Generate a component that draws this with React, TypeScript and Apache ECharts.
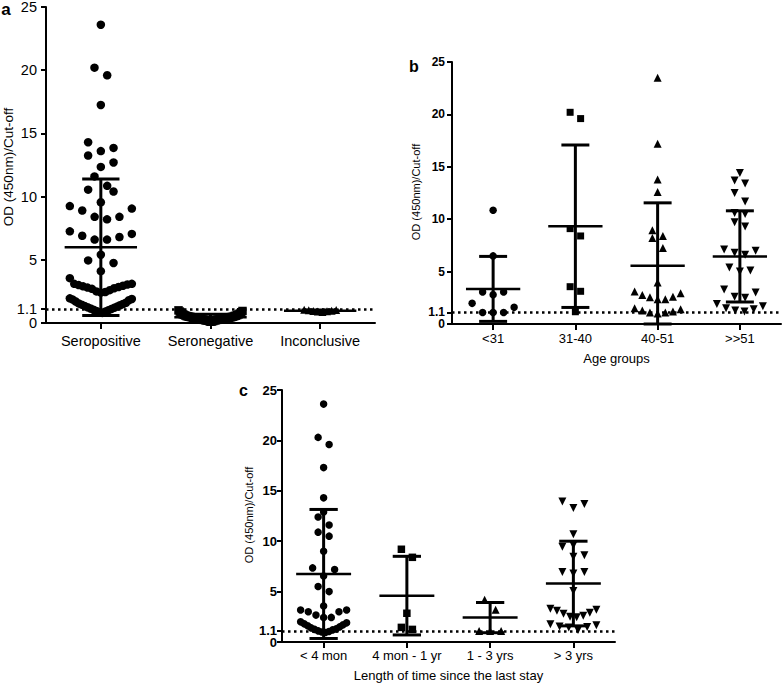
import React, { useEffect, useRef } from 'react';
import * as echarts from 'echarts';

const FONT = '"Liberation Sans", Arial, Helvetica, sans-serif';

// ---------- data ----------
const yTickValues = [0, 1.1, 5, 10, 15, 20, 25];
const yLabelValues = [1.1, 5, 10, 15, 20, 25];
const yZeroLabel = [0];
const cutOff = 1.1;

// Panel a
const serologyCategories = ['Seropositive', 'Seronegative', 'Inconclusive'];
const seropositiveValues = [
  23.6, 20.2, 19.6, 17.25, 14.3, 13.85, 13.6, 13.25, 12.7, 12.35, 11.6, 10.85, 10.55, 10.4,
  9.55, 9.25, 9.05, 8.9, 8.4, 8.4, 8.2, 7.25, 7.05, 6.9, 6.8, 6.6, 6.6, 5.4, 4.95, 4.75, 4.1,
  3.55, 3.1, 3.1, 3.05, 3.0, 2.95, 2.9, 2.85, 2.8, 2.75, 2.7, 2.6, 2.5, 2.45, 2.4,
  1.95, 1.9, 1.85, 1.8, 1.7, 1.6, 1.55, 1.5, 1.45, 1.4, 1.35, 1.3, 1.25, 1.2, 1.15, 1.1,
  1.05, 1.0, 0.95, 0.9, 0.85, 0.8,
];
const seronegativeValues = [
  0.1, 0.12, 0.15, 0.15, 0.18, 0.2, 0.2, 0.22, 0.22, 0.25, 0.25, 0.28, 0.28, 0.3, 0.3, 0.3,
  0.32, 0.32, 0.35, 0.35, 0.35, 0.38, 0.38, 0.4, 0.4, 0.4, 0.42, 0.42, 0.45, 0.45, 0.48, 0.48,
  0.5, 0.5, 0.52, 0.55, 0.55, 0.58, 0.6, 0.62, 0.65, 0.68, 0.7, 0.75, 0.8, 0.85, 0.9, 0.95, 1.0,
];
const inconclusiveValues = [0.88, 0.9, 0.92, 0.95, 0.97, 1.0, 1.02, 1.05];
const serologyMeans = [6.0, 0.45, 0.97];
const serologySDs = [5.4, 0.25, 0.06];

// Panel b
const ageCategories = ['<31', '31-40', '40-51', '>>51'];
const ageUnder31 = [10.85, 6.5, 3.05, 3.05, 2.8, 1.97, 1.6, 1.1, 1.1, 1.1];
const age31to40 = [20.2, 19.6, 9.1, 8.4, 3.56, 3.12, 1.17];
const age40to51 = [
  23.5, 17.2, 13.8, 12.6, 8.95, 8.4, 8.2, 7.25, 3.95, 3.1, 2.93, 2.77, 2.6, 2.55, 2.35, 2.35,
  1.5, 1.4, 1.3, 1.2, 1.1, 1.1, 1.0,
];
const ageOver51 = [
  14.4, 13.7, 13.4, 12.5, 11.7, 10.6, 10.5, 9.7, 9.3, 7.1, 7.0, 6.8, 6.6, 5.4, 5.1, 5.0, 3.3,
  3.0, 2.6, 2.5, 1.9, 1.7, 1.5, 1.4, 1.3, 1.2,
];
const ageMeans = [3.35, 9.33, 5.56, 6.45];
const ageSDs = [3.1, 7.75, 6.0, 4.35];

// Panel c
const stayCategories = ['< 4 mon', '4 mon - 1 yr', '1 - 3 yrs', '> 3 yrs'];
const stayUnder4mon = [
  23.6, 20.3, 19.6, 17.3, 14.3, 12.9, 12.4, 11.6, 10.9, 10.5, 9.0, 7.35, 7.2, 6.55, 5.5, 5.0,
  3.56, 3.17, 3.17, 3.0, 3.0, 2.67, 2.44, 2.44, 2.0, 1.9, 1.8, 1.7, 1.6, 1.5, 1.4, 1.3, 1.25,
  1.2, 1.1, 1.05, 1.0, 0.95,
];
const stay4monTo1yr = [9.2, 8.4, 2.85, 1.45, 1.25];
const stay1to3yrs = [4.2, 3.2, 1.1, 1.1, 1.1];
const stayOver3yrs = [
  13.95, 13.7, 13.3, 10.7, 9.6, 9.45, 8.6, 8.45, 6.95, 6.95, 6.8, 5.05, 3.3, 3.2, 3.1, 2.9, 2.8,
  2.6, 2.5, 2.45, 1.75, 1.65, 1.55, 1.5, 1.45, 1.2,
];
const stayMeans = [6.75, 4.6, 2.42, 5.8];
const staySDs = [6.4, 3.9, 1.5, 4.2];

// ---------- layout ----------
const Y_MAX = 25;
const grids = [
  { left: 46, top: 7, width: 329, height: 316 },
  { left: 452, top: 62, width: 329, height: 262 },
  { left: 282, top: 390, width: 333, height: 252 },
];

type PanelCfg = {
  categories: string[];
  groups: number[][];
  means: number[];
  sds: number[];
  symbols: string[];
  rotates: number[];
  sizes: number[];
  spacing: number;
  rowPx: number;
  maxHalf: number[];
  xFont: number;
  xMargin: number;
  yFont: number;
  yBold: boolean;
  yMargin: number;
};

const panels: PanelCfg[] = [
  {
    categories: serologyCategories,
    groups: [seropositiveValues, seronegativeValues, inconclusiveValues],
    means: serologyMeans,
    sds: serologySDs,
    symbols: ['circle', 'rect', 'triangle'],
    rotates: [0, 0, 0],
    sizes: [8.5, 8.5, 8],
    spacing: 12.7,
    rowPx: 15,
    maxHalf: [31, 32, 16],
    xFont: 14.5,
    xMargin: 10,
    yFont: 14.5,
    yBold: false,
    yMargin: 9,
  },
  {
    categories: ageCategories,
    groups: [ageUnder31, age31to40, age40to51, ageOver51],
    means: ageMeans,
    sds: ageSDs,
    symbols: ['circle', 'rect', 'triangle', 'triangle'],
    rotates: [0, 0, 0, 180],
    sizes: [7.5, 7, 8, 8],
    spacing: 10.5,
    rowPx: 10,
    maxHalf: [23, 23, 23, 23],
    xFont: 13,
    xMargin: 7.5,
    yFont: 12,
    yBold: true,
    yMargin: 7,
  },
  {
    categories: stayCategories,
    groups: [stayUnder4mon, stay4monTo1yr, stay1to3yrs, stayOver3yrs],
    means: stayMeans,
    sds: staySDs,
    symbols: ['circle', 'rect', 'triangle', 'triangle'],
    rotates: [0, 0, 0, 180],
    sizes: [7.5, 7.5, 8, 8],
    spacing: 11,
    rowPx: 11,
    maxHalf: [23, 23, 23, 23],
    xFont: 13,
    xMargin: 6.5,
    yFont: 13,
    yBold: true,
    yMargin: 5,
  },
];

// Row-based horizontal spreading (pixel offsets), computed from the values:
// values close together share a row and are spread symmetrically, lowest at the centre.
function swarmOffsets(values: number[], pxPerUnit: number, spacing: number, rowPx: number, maxHalf: number): number[] {
  const order = values.map((_, i) => i).sort((a, b) => values[a] - values[b]);
  const out = new Array(values.length).fill(0);
  let i = 0;
  while (i < order.length) {
    const start = values[order[i]];
    const row: number[] = [];
    while (i < order.length && (values[order[i]] - start) * pxPerUnit < rowPx) {
      row.push(order[i]);
      i++;
    }
    const k = row.length;
    if (k === 1) {
      out[row[0]] = 0;
      continue;
    }
    const sp = Math.min(spacing, (2 * maxHalf) / (k - 1));
    const slots: number[] = [];
    if (k % 2 === 1) {
      slots.push(0);
      for (let j = 1; slots.length < k; j++) {
        slots.push(j * sp);
        if (slots.length < k) slots.push(-j * sp);
      }
    } else {
      for (let j = 0; slots.length < k; j++) {
        slots.push((j + 0.5) * sp);
        if (slots.length < k) slots.push(-(j + 0.5) * sp);
      }
    }
    row.forEach((idx, j) => {
      out[idx] = slots[j];
    });
  }
  return out;
}

function buildOption() {
  const xAxis: any[] = [];
  const yAxis: any[] = [];
  const series: any[] = [];

  panels.forEach((p, pi) => {
    const g = grids[pi];
    const pxPerUnit = g.height / Y_MAX;
    const labelStyle = {
      color: '#000',
      fontSize: p.yFont,
      fontWeight: p.yBold ? 'bold' : 'normal',
      fontFamily: FONT,
      margin: p.yMargin,
      hideOverlap: false,
      formatter: (v: number) => String(v),
    };
    xAxis.push({
      type: 'category',
      gridIndex: pi,
      data: p.categories,
      boundaryGap: true,
      axisLine: { show: true, lineStyle: { color: '#000', width: 2 } },
      axisTick: { show: true, alignWithLabel: true, length: 6, lineStyle: { color: '#000', width: 2 } },
      axisLabel: { color: '#000', fontSize: p.xFont, fontFamily: FONT, margin: p.xMargin, interval: 0 },
      splitLine: { show: false },
    });
    // main y axis (line, ticks, labels from 1.1 up)
    yAxis.push({
      type: 'value',
      gridIndex: pi,
      position: 'left',
      min: 0,
      max: Y_MAX,
      axisLine: { show: true, lineStyle: { color: '#000', width: 2 } },
      axisTick: { show: true, length: 5, lineStyle: { color: '#000', width: 2 }, customValues: yTickValues },
      axisLabel: { ...labelStyle, customValues: yLabelValues },
      splitLine: { show: false },
    });
    // companion y axis carrying only the "0" label
    yAxis.push({
      type: 'value',
      gridIndex: pi,
      position: 'left',
      offset: 0,
      min: 0,
      max: Y_MAX,
      axisLine: { show: false },
      axisTick: { show: false },
      axisLabel: { ...labelStyle, customValues: yZeroLabel },
      splitLine: { show: false },
    });
    const yIdx = pi * 2;

    // mean ± SD bars
    series.push({
      type: 'custom',
      xAxisIndex: pi,
      yAxisIndex: yIdx,
      data: p.means.map((m, i) => [i, m, p.sds[i]]),
      encode: { x: 0, y: 1 },
      renderItem: (_params: any, api: any) => {
        const cat = api.value(0);
        const mean = api.value(1);
        const sd = api.value(2);
        const c = api.coord([cat, mean]);
        const top = api.coord([cat, mean + sd]);
        const bot = api.coord([cat, Math.max(0, mean - sd)]);
        const band = api.size([1, 0])[0];
        const mw = band * 0.33;
        const cw = band * 0.17;
        const st = { stroke: '#000', lineWidth: 3, fill: null };
        return {
          type: 'group',
          children: [
            { type: 'line', shape: { x1: c[0] - mw, y1: c[1], x2: c[0] + mw, y2: c[1] }, style: { stroke: '#000', lineWidth: 2.5 } },
            { type: 'line', shape: { x1: c[0], y1: top[1], x2: c[0], y2: bot[1] }, style: st },
            { type: 'line', shape: { x1: c[0] - cw, y1: top[1], x2: c[0] + cw, y2: top[1] }, style: st },
            { type: 'line', shape: { x1: c[0] - cw, y1: bot[1], x2: c[0] + cw, y2: bot[1] }, style: st },
          ],
        };
      },
      z: 2,
    });

    p.groups.forEach((vals, ci) => {
      const offs = swarmOffsets(vals, pxPerUnit, p.spacing, p.rowPx, p.maxHalf[ci]);
      const s: any = {
        type: 'scatter',
        xAxisIndex: pi,
        yAxisIndex: yIdx,
        symbol: p.symbols[ci],
        symbolSize: p.sizes[ci],
        symbolRotate: p.rotates[ci],
        itemStyle: { color: '#000', opacity: 1 },
        emphasis: { disabled: true },
        data: vals.map((v, j) => ({ value: [ci, v], symbolOffset: [offs[j], 0] })),
        z: 3,
      };
      if (ci === 0) {
        s.markLine = {
          silent: true,
          symbol: ['none', 'none'],
          label: { show: false },
          lineStyle: { color: '#000', type: [2.5, 3.5], width: 2.5, cap: 'butt' },
          emphasis: { disabled: true },
          data: [{ yAxis: cutOff }],
          z: 4,
        };
      }
      series.push(s);
    });
  });

  const baseText = { fill: '#000', fontFamily: FONT, textAlign: 'center', textVerticalAlign: 'middle' };
  const graphic = [
    { type: 'text', x: 6, y: 9, style: { ...baseText, text: 'a', fontSize: 17, fontWeight: 'bold' } },
    { type: 'text', x: 414, y: 66, style: { ...baseText, text: 'b', fontSize: 16, fontWeight: 'bold' } },
    { type: 'text', x: 243.5, y: 390, style: { ...baseText, text: 'c', fontSize: 16, fontWeight: 'bold' } },
    { type: 'text', x: 8, y: 167, rotation: Math.PI / 2, style: { ...baseText, text: 'OD (450nm)/Cut-off', fontSize: 13.5 } },
    { type: 'text', x: 416, y: 192, rotation: Math.PI / 2, style: { ...baseText, text: 'OD (450nm)/Cut-off', fontSize: 11 } },
    { type: 'text', x: 249, y: 515, rotation: Math.PI / 2, style: { ...baseText, text: 'OD (450nm)/Cut-off', fontSize: 11 } },
    { type: 'text', x: 616.5, y: 358, style: { ...baseText, text: 'Age groups', fontSize: 13 } },
    { type: 'text', x: 448.5, y: 675, style: { ...baseText, text: 'Length of time since the last stay', fontSize: 13 } },
  ];

  return {
    animation: false,
    backgroundColor: '#fff',
    grid: grids.map((g) => ({ ...g, containLabel: false, outerBoundsMode: 'none' })),
    xAxis,
    yAxis,
    series,
    graphic,
  };
}

export default function App() {
  const ref = useRef<HTMLDivElement>(null);
  useEffect(() => {
    if (!ref.current) return;
    const chart = echarts.init(ref.current, null, { renderer: 'svg' });
    chart.setOption(buildOption() as any);
    return () => chart.dispose();
  }, []);
  return (
    <div
      ref={ref}
      style={{ position: 'fixed', left: 0, top: 0, width: 784, height: 683, background: '#fff' }}
    />
  );
}
